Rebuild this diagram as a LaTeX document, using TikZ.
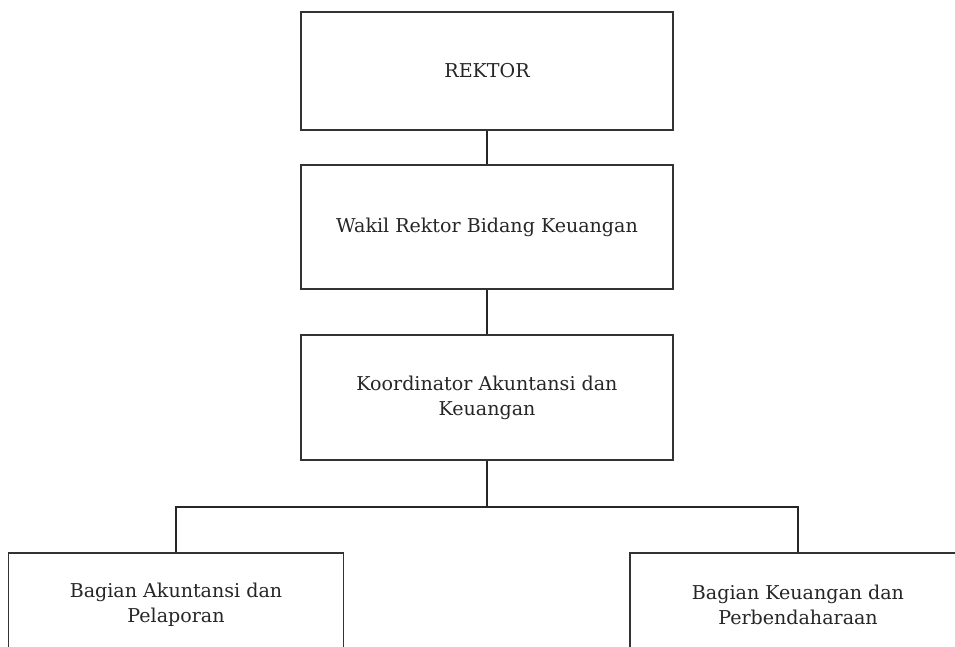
\documentclass[tikz,border=0pt]{standalone}
\usepackage{fontspec}
\setmainfont{DejaVu Serif}
\begin{document}
\begin{tikzpicture}[x=0.75pt,y=-0.75pt,
  box/.style={draw=black!80, line width=1.3pt, fill=white, inner sep=0pt,
    align=center, text=black!85,
    font=\fontsize{14.3}{18.75}\selectfont},
  conn/.style={draw=black!85, line width=1.4pt}]
\useasboundingbox (0,0) rectangle (955,646);
\clip (0,0) rectangle (955,646);
\node[box, minimum width=279pt, minimum height=88.5pt] (rektor) at (487,71) {REKTOR};
\node[box, minimum width=279pt, minimum height=93pt] (wakil) at (487,227) {Wakil Rektor Bidang Keuangan};
\node[box, minimum width=279pt, minimum height=93.75pt] (koord) at (487,397.5) {Koordinator Akuntansi dan\\Keuangan};
\node[box, minimum width=251.25pt, minimum height=78pt] (akun) at (176,605) {Bagian Akuntansi dan\\Pelaporan};
\node[box, minimum width=252pt, minimum height=78pt] (keu) at (798,605) {Bagian Keuangan dan\\Perbendaharaan};
\coordinate (bus) at (487,507);
\draw[conn] (rektor.south) -- (wakil.north);
\draw[conn] (wakil.south) -- (koord.north);
\draw[conn] (koord.south) -- (bus);
\draw[conn] (akun.north) |- (bus) -| (keu.north);
\end{tikzpicture}
\end{document}
